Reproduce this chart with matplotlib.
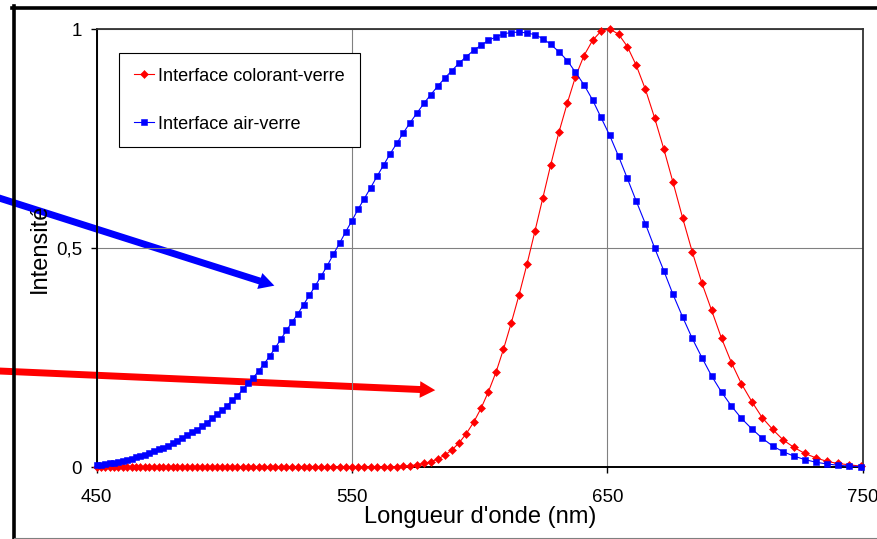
import matplotlib

matplotlib.use("Agg")

import matplotlib.pyplot as plt
from matplotlib.lines import Line2D
from matplotlib.patches import FancyArrowPatch

wavelength = [
    749.2, 744.7, 740.3, 735.9, 731.6, 727.3, 723.0, 718.8, 714.7, 710.6,
    706.6, 702.5, 698.6, 694.7, 690.8, 687.0, 683.2, 679.5, 675.7, 672.1,
    668.5, 664.9, 661.3, 657.8, 654.4, 650.9, 647.5, 644.2, 640.8, 637.5,
    634.3, 631.0, 627.8, 624.7, 621.6, 618.5, 615.4, 612.3, 609.3, 606.4,
    603.4, 600.5, 597.6, 594.7, 591.9, 589.1, 586.3, 583.5, 580.8, 578.1,
    575.4, 572.7, 570.1, 567.5, 564.9, 562.4, 559.8, 557.3, 554.8, 552.3,
    549.9, 547.5, 545.1, 542.7, 540.3, 538.0, 535.6, 533.3, 531.0, 528.8,
    526.5, 524.3, 522.1, 519.9, 517.7, 515.6, 513.5, 511.3, 509.2, 507.2,
    505.1, 503.0, 501.0, 499.0, 497.0, 495.0, 493.0, 491.1, 489.2, 487.2,
    485.3, 483.4, 481.6, 479.7, 477.8, 476.0, 474.2, 472.4, 470.6, 468.8,
    467.0, 465.3, 463.6, 461.8, 460.1, 458.4, 456.7, 455.0, 453.4, 451.7,
    450.1,
]

colorant_verre = [
    0.002, 0.005, 0.008, 0.013, 0.021, 0.031, 0.045, 0.062, 0.086, 0.113,
    0.149, 0.190, 0.238, 0.294, 0.358, 0.420, 0.492, 0.568, 0.650, 0.726,
    0.797, 0.862, 0.917, 0.960, 0.988, 1.000, 0.995, 0.974, 0.939, 0.891,
    0.831, 0.764, 0.690, 0.614, 0.538, 0.463, 0.393, 0.328, 0.269, 0.217,
    0.172, 0.134, 0.102, 0.076, 0.055, 0.039, 0.027, 0.018, 0.012, 0.008,
    0.005, 0.003, 0.002, 0.001, 0.001,
    0.0, 0.0, 0.0, 0.0, 0.0, 0.0, 0.0, 0.0, 0.0, 0.0, 0.0, 0.0, 0.0, 0.0,
    0.0, 0.0, 0.0, 0.0, 0.0, 0.0, 0.0, 0.0, 0.0, 0.0, 0.0, 0.0, 0.0, 0.0,
    0.0, 0.0, 0.0, 0.0, 0.0, 0.0, 0.0, 0.0, 0.0, 0.0, 0.0, 0.0, 0.0, 0.0,
    0.0, 0.0, 0.0, 0.0, 0.0, 0.0, 0.0, 0.0, 0.0, 0.0, 0.0, 0.0, 0.0, 0.0,
]

air_verre = [
    0.001, 0.002, 0.004, 0.007, 0.011, 0.017, 0.025, 0.035, 0.048, 0.066,
    0.087, 0.111, 0.139, 0.171, 0.208, 0.250, 0.294, 0.342, 0.394, 0.448,
    0.500, 0.555, 0.607, 0.659, 0.709, 0.757, 0.798, 0.838, 0.873, 0.901,
    0.928, 0.948, 0.965, 0.978, 0.987, 0.991, 0.993, 0.992, 0.989, 0.982,
    0.974, 0.963, 0.951, 0.937, 0.922, 0.905, 0.888, 0.869, 0.850, 0.830,
    0.808, 0.786, 0.763, 0.739, 0.715, 0.690, 0.664, 0.638, 0.613, 0.588,
    0.562, 0.537, 0.511, 0.486, 0.460, 0.437, 0.414, 0.392, 0.371, 0.350,
    0.331, 0.312, 0.292, 0.272, 0.253, 0.236, 0.220, 0.204, 0.191, 0.177,
    0.163, 0.152, 0.140, 0.129, 0.120, 0.111, 0.101, 0.093, 0.085, 0.079,
    0.072, 0.066, 0.060, 0.054, 0.049, 0.044, 0.040, 0.036, 0.032, 0.028,
    0.025, 0.022, 0.019, 0.016, 0.013, 0.011, 0.010, 0.008, 0.007, 0.005,
    0.004,
]

x_ticks = [450, 550, 650, 750]
x_tick_labels = ["450", "550", "650", "750"]
y_ticks = [0, 0.5, 1]
y_tick_labels = ["0", "0,5", "1"]

W, H = 877, 539


def fx(px):
    return px / W


def fy(py):
    return 1 - py / H


plt.rcParams["font.family"] = ["Liberation Sans", "DejaVu Sans"]

fig = plt.figure(figsize=(W / 100, H / 100), dpi=100)
fig.patch.set_facecolor("white")

ax = fig.add_axes([fx(96.8), fy(467), fx(862.7) - fx(96.8), fy(29) - fy(467)])
ax.set_facecolor("none")

ax.plot(wavelength, colorant_verre, color="#FF0000", linewidth=0.8,
        marker="D", markersize=3.6, markeredgewidth=0.4,
        label="Interface colorant-verre", clip_on=False, zorder=3)
ax.plot(wavelength, air_verre, color="#0000FF", linewidth=0.8,
        marker="s", markersize=4.4, markeredgewidth=0.4,
        label="Interface air-verre", clip_on=False, zorder=4)

ax.set_xlim(450, 750)
ax.set_ylim(0, 1)
ax.set_xticks(x_ticks)
ax.set_xticklabels(x_tick_labels)
ax.set_yticks(y_ticks)
ax.set_yticklabels(y_tick_labels)
ax.tick_params(axis="both", direction="out", length=4.5, width=1,
               labelsize=13.5, color="black")
ax.tick_params(axis="x", pad=11)
ax.tick_params(axis="y", pad=6)
ax.grid(True, color="#808080", linewidth=0.8)

for side in ["left", "bottom"]:
    ax.spines[side].set_color("black")
    ax.spines[side].set_linewidth(1.4)
for side in ["top", "right"]:
    ax.spines[side].set_color("#333333")
    ax.spines[side].set_linewidth(1.3)

ax.set_xlabel("Longueur d'onde (nm)", fontsize=17, va="top")
ax.xaxis.set_label_coords(0.5, -0.088)
ax.set_ylabel("Intensité", fontsize=17)
ax.yaxis.set_label_coords(-0.06, 0.5)

leg = ax.legend(loc="upper left",
                bbox_to_anchor=(fx(119), fy(53)),
                bbox_transform=fig.transFigure,
                borderaxespad=0, fontsize=13.1, frameon=True, fancybox=False,
                edgecolor="black", framealpha=1, borderpad=0.8,
                handlelength=1.15, handletextpad=0.22, labelspacing=1.72)
leg.get_frame().set_linewidth(0.8)

# hand-drawn arrows pointing at the curves (below the chart)
arrows = [
    ((-10, 195.1), (277, 286.5), "#0000FF"),
    ((-10, 370.6), (438, 390.3), "#FF0000"),
]
for (x0, y0), (x1, y1), col in arrows:
    arr = FancyArrowPatch(
        (fx(x0), fy(y0)), (fx(x1), fy(y1)),
        transform=fig.transFigure,
        arrowstyle="simple,head_length=11,head_width=12,tail_width=5",
        mutation_scale=1, color=col, linewidth=0, zorder=-1,
    )
    fig.add_artist(arr)

# outer frame of the pasted chart
fig.add_artist(Line2D([fx(12), 1], [fy(7.5), fy(7.5)], transform=fig.transFigure,
                      color="black", linewidth=2.6, zorder=5))
fig.add_artist(Line2D([fx(14), fx(14)], [fy(6), 0], transform=fig.transFigure,
                      color="black", linewidth=2.6, zorder=5))
fig.add_artist(Line2D([fx(14), 1], [fy(538.3), fy(538.3)], transform=fig.transFigure,
                      color="#808080", linewidth=0.8, zorder=5))

fig.savefig("out.png", dpi=100)
